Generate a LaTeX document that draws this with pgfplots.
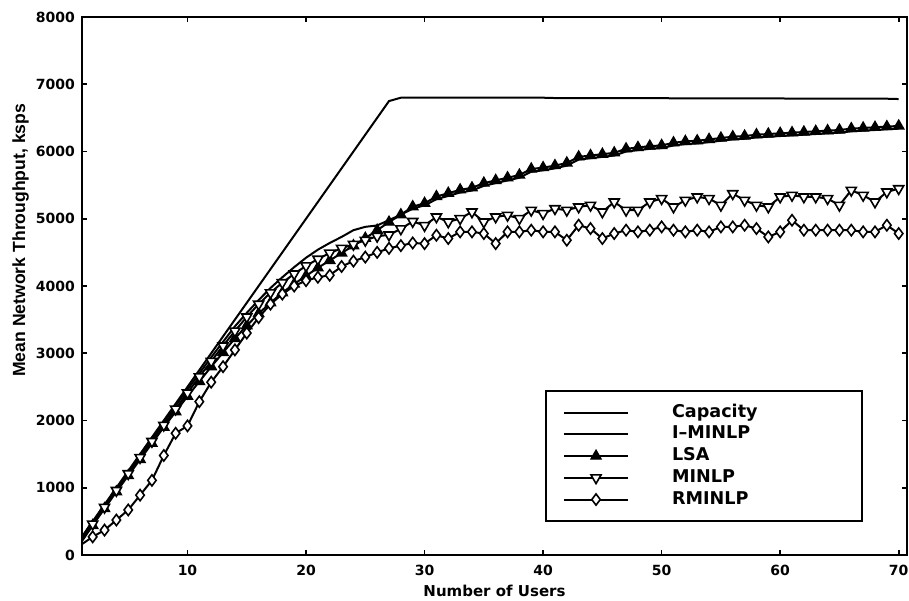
\documentclass[border=0pt]{standalone}
\usepackage{pgfplots}
\usepackage{pgfplotstable}
\pgfplotsset{compat=1.18}
\usepackage{fontspec}
\setmainfont{DejaVu Sans}
\newfontfamily\ylabfont{Liberation Sans}

\pgfplotstableread{
N cap imin lsa minlp rmin
1 250 200 180 200 150
2 500 470 440 460 270
3 750 730 690 710 370
4 1000 980 940 960 520
5 1250 1230 1180 1210 670
6 1500 1480 1420 1450 890
7 1750 1720 1660 1690 1110
8 2000 1970 1900 1930 1480
9 2250 2220 2130 2170 1810
10 2500 2460 2360 2410 1920
11 2750 2700 2580 2650 2280
12 3000 2940 2800 2880 2570
13 3250 3170 3010 3110 2800
14 3500 3400 3220 3330 3050
15 3750 3600 3410 3540 3300
16 4000 3790 3590 3730 3530
17 4250 3970 3750 3900 3730
18 4500 4130 3900 4050 3880
19 4750 4280 4030 4180 4000
20 5000 4420 4150 4300 4080
21 5250 4540 4270 4400 4130
22 5500 4640 4380 4490 4160
23 5750 4730 4490 4560 4290
24 6000 4830 4600 4620 4370
25 6250 4880 4710 4680 4430
26 6500 4900 4830 4740 4500
27 6750 4980 4950 4760 4560
28 6800 5060 5060 4850 4600
29 6800 5150 5180 4960 4640
30 6800 5200 5230 4900 4630
31 6800 5290 5330 5028 4755
32 6800 5340 5380 4953 4706
33 6800 5390 5430 5003 4805
34 6800 5420 5460 5102 4805
35 6800 5490 5530 4953 4780
36 6800 5530 5570 5028 4631
37 6800 5570 5610 5052 4805
38 6800 5610 5650 5003 4805
39 6800 5700 5740 5127 4830
40 6800 5720 5760 5077 4805
41 6795 5750 5790 5151 4805
42 6795 5790 5830 5127 4681
43 6795 5880 5920 5176 4904
44 6795 5900 5940 5201 4854
45 6795 5920 5960 5102 4706
46 6795 5940 5980 5250 4780
47 6795 6000 6040 5127 4830
48 6795 6020 6060 5127 4805
49 6795 6040 6080 5250 4830
50 6795 6050 6090 5300 4879
51 6790 6090 6130 5176 4830
52 6790 6110 6150 5275 4805
53 6790 6120 6160 5325 4830
54 6790 6140 6180 5300 4805
55 6790 6160 6200 5201 4879
56 6790 6180 6220 5374 4879
57 6790 6190 6230 5275 4904
58 6790 6210 6250 5201 4854
59 6790 6220 6260 5176 4730
60 6790 6230 6270 5325 4805
61 6785 6240 6280 5349 4978
62 6785 6250 6290 5325 4830
63 6785 6260 6300 5325 4830
64 6785 6270 6310 5300 4830
65 6785 6280 6320 5201 4830
66 6785 6300 6340 5424 4830
67 6785 6310 6350 5349 4805
68 6785 6320 6360 5250 4805
69 6785 6330 6370 5399 4904
70 6780 6340 6380 5448 4780
}\datatable

\begin{document}
\begin{tikzpicture}
\path[use as bounding box] (-41pt,-22.5pt) rectangle (413.5pt,277.5pt);
\begin{axis}[
  at={(0,0)}, anchor=south west,
  scale only axis, width=412.5pt, height=269pt,
  xmin=1.1, xmax=70.7, ymin=0, ymax=8000,
  xtick={10,20,...,70}, ytick={0,1000,...,8000},
  tick align=inside, major tick length=2.5pt,
  scaled y ticks=false,
  /pgf/number format/1000 sep={},
  /pgf/number format/assume math mode=true,
  tick label style={font=\fontsize{7}{8}\selectfont\bfseries},
  xticklabel style={yshift=-1.5pt},
  axis line style={line width=1pt},
  every tick/.style={line width=0.8pt, black},
  xlabel={Number of Users},
  xlabel style={at={(axis description cs:0.5,0)}, anchor=north, yshift=-15pt, inner sep=0pt, font=\fontsize{7.5}{8}\selectfont\bfseries},
  ylabel={Mean Network Throughput, ksps},
  ylabel style={at={(axis description cs:-0.064,0.585)}, anchor=south, inner sep=0pt, font=\ylabfont\fontsize{8.8}{9}\selectfont\bfseries},
  legend style={at={(0.9467,0.0613)}, anchor=south east, draw=black, line width=1pt,
    inner xsep=8.5pt, inner ysep=5.5pt, row sep=0.35pt,
    font=\fontsize{8.8}{10}\selectfont\bfseries,
    nodes={inner sep=0.5pt, text height=7pt, text depth=2.5pt},
    /tikz/every odd column/.append style={column sep=21pt}},
  legend cell align=left,
  legend image code/.code={\draw[mark repeat=2,mark phase=2,#1] plot coordinates {(0pt,0pt) (16pt,0pt) (32pt,0pt)};},
]
\addplot[black, line width=1pt] table[x=N, y=cap] {\datatable};
\addlegendentry{\makebox[86pt][l]{Capacity}}
\addplot[black, line width=1pt] table[x=N, y=imin] {\datatable};
\addlegendentry{\makebox[86pt][l]{I--MINLP}}
\addplot[black, line width=1pt, mark=triangle*, mark size=2.9pt, mark options={fill=black, line width=0.7pt}] table[x=N, y=lsa] {\datatable};
\addlegendentry{\makebox[86pt][l]{LSA}}
\addplot[black, line width=1pt, mark=triangle*, mark size=2.9pt, mark options={fill=white, rotate=180, line width=0.8pt}] table[x=N, y=minlp] {\datatable};
\addlegendentry{\makebox[86pt][l]{MINLP}}
\addplot[black, line width=1pt, mark=diamond*, mark size=2.8pt, mark options={fill=white, line width=0.8pt}] table[x=N, y=rmin] {\datatable};
\addlegendentry{\makebox[86pt][l]{RMINLP}}
\end{axis}
\end{tikzpicture}
\end{document}
